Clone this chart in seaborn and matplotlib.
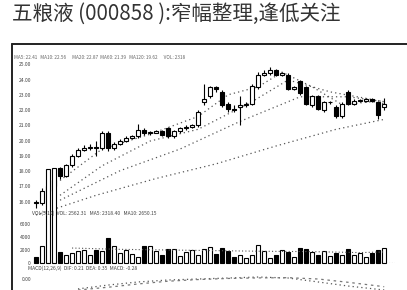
import numpy as np
import pandas as pd
import matplotlib
matplotlib.use("Agg")
import matplotlib.pyplot as plt
import seaborn as sns
from matplotlib.lines import Line2D

sns.set_style("white")
plt.rcParams['font.family'] = ['Noto Sans CJK SC', 'DejaVu Sans']

# 标题
title = "五粮液 (000858 ):窄幅整理,逢低关注"

# K线数据 (开, 高, 低, 收)
opens = [16.0, 15.9, 16.7, 17.0, 18.2, 17.7, 18.4, 19.0, 19.4, 19.5, 19.6, 19.5, 20.5, 19.5, 19.8,
         20.0, 20.2, 20.3, 20.7, 20.5, 20.5, 20.6, 20.8, 20.3, 20.6, 20.8, 20.9, 21.0, 22.5, 22.9,
         23.5, 23.2, 22.4, 22.1, 22.2, 22.3, 22.4, 23.5, 24.3, 24.4, 24.6, 24.3, 24.3, 23.4, 23.9,
         23.5, 22.3, 22.9, 22.0, 22.5, 22.2, 21.6, 23.2, 22.4, 22.6, 22.6, 22.7, 22.5, 22.2]
highs = [16.1, 16.9, 17.4, 17.6, 18.3, 18.5, 19.1, 19.5, 19.7, 19.8, 20.0, 20.6, 20.6, 19.9, 20.1,
         20.3, 20.4, 21.1, 20.8, 20.6, 20.7, 20.7, 20.9, 20.7, 20.9, 21.0, 21.1, 22.0, 23.7, 23.6,
         23.6, 23.3, 22.5, 22.3, 22.9, 22.5, 23.7, 24.5, 24.6, 24.8, 24.7, 24.5, 24.4, 23.6, 24.0,
         23.6, 23.0, 23.0, 22.6, 22.6, 22.3, 22.5, 23.3, 22.7, 22.7, 22.8, 22.8, 22.6, 22.8]
lows = [15.6, 15.8, 16.5, 16.9, 17.5, 17.6, 18.3, 18.9, 19.3, 19.4, 19.0, 19.4, 19.3, 19.4, 19.7,
        19.9, 20.1, 20.2, 20.4, 20.4, 20.5, 20.3, 20.2, 20.2, 20.5, 20.7, 20.8, 20.9, 22.3, 22.8,
        23.2, 22.2, 21.9, 21.9, 21.0, 22.2, 22.3, 23.4, 24.2, 24.3, 24.2, 24.2, 23.3, 23.3, 23.0,
        22.3, 22.2, 22.0, 21.9, 22.4, 21.5, 21.5, 22.3, 22.3, 22.5, 22.5, 22.5, 21.4, 22.0]
closes = [15.9, 16.7, 17.0, 17.4, 17.7, 18.4, 19.0, 19.4, 19.5, 19.6, 19.5, 20.5, 19.5, 19.8, 20.0,
          20.2, 20.3, 20.7, 20.5, 20.5, 20.6, 20.4, 20.3, 20.6, 20.8, 20.9, 21.0, 21.9, 22.7, 23.5,
          23.4, 22.3, 22.1, 22.0, 22.3, 22.4, 23.6, 24.3, 24.4, 24.6, 24.3, 24.4, 23.4, 23.5, 23.1,
          22.4, 22.9, 22.1, 22.5, 22.5, 21.6, 22.4, 22.4, 22.6, 22.6, 22.7, 22.6, 21.7, 22.4]

# 均线 (读图取点)
ma5_idx = [4, 11, 19, 27, 32, 37, 41, 46, 51, 56, 58]
ma5_val = [17.39, 19.45, 20.42, 21.58, 23.0, 23.52, 24.48, 23.52, 22.35, 22.55, 22.42]
ma10_idx = [4, 11, 19, 27, 36, 42, 49, 58]
ma10_val = [16.42, 18.35, 19.97, 20.74, 22.55, 23.97, 23.19, 22.55]
ma20_idx = [4, 14, 24, 34, 44, 52, 58]
ma20_val = [16.10, 18.03, 19.45, 21.26, 22.87, 22.87, 22.55]
ma60_idx = [0, 10, 20, 30, 40, 50, 58]
ma60_val = [15.13, 16.42, 17.52, 18.48, 19.65, 20.74, 21.39]

price_ticks = [16, 17, 18, 19, 20, 21, 22, 23, 24, 25]

# 成交量
volume = [900, 2600, 14500, 14600, 1700, 1200, 1500, 1800, 2000, 1200, 2000, 1800, 3900, 2600, 1600,
          2000, 1400, 900, 2600, 2600, 1800, 1200, 2100, 2200, 1000, 1700, 2000, 1300, 2200, 2400,
          1400, 2300, 1800, 900, 1300, 700, 1200, 2800, 1900, 800, 1200, 2000, 1700, 900, 2300,
          2100, 1700, 1300, 1900, 1000, 1500, 1200, 2100, 1300, 1600, 900, 1500, 2000, 2300]
vol_ma_idx = [6, 14, 22, 30, 38, 46, 54, 58]
vol_ma_val = [2300, 2100, 2000, 1900, 1800, 1750, 1600, 1700]
vol_ticks = [0, 2000, 4000, 6000]

# MACD
macd_idx = [7, 12, 17, 22, 27, 32, 37, 42, 47, 52, 58]
dif_val = [-0.9, -0.55, -0.27, -0.09, 0.0, 0.09, 0.18, 0.09, -0.27, -0.64, -1.0]
dea_val = [-1.0, -0.75, -0.45, -0.2, -0.05, 0.05, 0.1, 0.12, 0.0, -0.3, -0.7]

W, H = 407, 290
fig = plt.figure(figsize=(W / 100, H / 100), dpi=100)


def box(x0, y0, x1, y1):
    return [x0 / W, 1 - y1 / H, (x1 - x0) / W, (y1 - y0) / H]


fig.text(12 / W, 1 - 14 / H, title, fontsize=14.8, color='#333333', va='center', ha='left')

# 外框
fig.add_artist(Line2D([12 / W, 1], [1 - 44 / H, 1 - 44 / H], color='#222222', lw=1.4))
fig.add_artist(Line2D([12 / W, 12 / W], [1 - 44 / H, 0], color='#222222', lw=1.4))

n = len(closes)
xs = np.arange(n)
df = pd.DataFrame({'x': xs, 'open': opens, 'high': highs, 'low': lows,
                   'close': closes, 'vol': volume})
df['up'] = df['close'] >= df['open']

tick_kw = dict(labelsize=3.6, labelcolor='#444444', length=0, pad=1.5)

# 价格
ax = fig.add_axes(box(33, 52, 395, 217))
ax.vlines(df['x'], df['low'], df['high'], color='black', lw=0.8, zorder=2)
bottoms = np.minimum(df['open'], df['close'])
heights = np.maximum(np.abs(df['close'] - df['open']), 0.05)
ax.bar(df['x'], heights, bottom=bottoms, width=0.7,
       color=np.where(df['up'], 'white', 'black'), edgecolor='black', lw=0.8, zorder=3)
for idx, val in [(ma5_idx, ma5_val), (ma10_idx, ma10_val), (ma20_idx, ma20_val), (ma60_idx, ma60_val)]:
    sns.lineplot(x=idx, y=val, ax=ax, color='#555555', lw=0.9, linestyle=(0, (1, 2.5)), zorder=1)
ax.set_xlim(-0.5, 59.8)
ax.set_ylim(15.0, 25.8)
ax.set_yticks(price_ticks)
ax.set_yticklabels([f"{v:.2f}" for v in price_ticks])
ax.set_xticks([])
ax.tick_params(axis='y', **tick_kw)
sns.despine(ax=ax, left=True, bottom=True)
ax.patch.set_alpha(0)

fig.text(14 / W, 1 - 57 / H,
         "MA5: 22.41   MA10: 22.56      MA20: 22.87  MA60: 21.39   MA120: 19.62      VOL: 2318",
         fontsize=3.4, color='#666666', va='center', ha='left')

# 成交量
axv = fig.add_axes(box(33, 223, 395, 263))
bars = axv.bar(df['x'], df['vol'], width=0.7,
               color=np.where(df['up'], 'white', 'black'), edgecolor='black', lw=0.8)
for b in bars:
    b.set_clip_on(False)
sns.lineplot(x=vol_ma_idx, y=vol_ma_val, ax=axv, color='#555555', lw=0.8, linestyle=(0, (1, 2)))
axv.axhline(0, color='#555555', lw=0.8, linestyle=(0, (1, 1.5)))
axv.set_xlim(-0.5, 59.8)
axv.set_ylim(0, 6150)
axv.set_yticks(vol_ticks)
axv.set_yticklabels([str(v) for v in vol_ticks])
axv.set_xticks([])
axv.tick_params(axis='y', **tick_kw)
sns.despine(ax=axv, left=True, bottom=True)
axv.patch.set_alpha(0)

fig.text(32 / W, 1 - 213 / H, "VOL(5,10)  VOL: 2562.31   MA5: 2318.40   MA10: 2650.15",
         fontsize=3.6, color='#444444', va='center', ha='left')

# MACD
axm = fig.add_axes(box(33, 268, 395, 290))
sns.lineplot(x=macd_idx, y=dif_val, ax=axm, color='#555555', lw=0.9, linestyle=(0, (1, 2.5)))
sns.lineplot(x=macd_idx, y=dea_val, ax=axm, color='#777777', lw=0.9, linestyle=(0, (2, 3)))
axm.set_xlim(-0.5, 59.8)
axm.set_ylim(-1, 1)
axm.set_yticks([0])
axm.set_yticklabels(["0.00"])
axm.set_xticks([])
axm.tick_params(axis='y', **tick_kw)
sns.despine(ax=axm, left=True, bottom=True)
axm.patch.set_alpha(0)

fig.text(28 / W, 1 - 268 / H, "MACD(12,26,9)  DIF: 0.21  DEA: 0.35  MACD: -0.28",
         fontsize=3.6, color='#444444', va='center', ha='left')

fig.savefig("out.png", dpi=100)
